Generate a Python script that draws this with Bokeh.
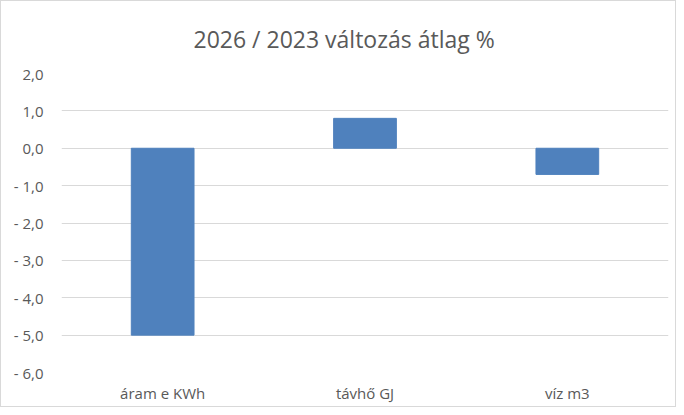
from bokeh.plotting import figure
from bokeh.models import FactorRange, Range1d, FixedTicker
from bokeh.embed import file_html
from bokeh.resources import INLINE

categories = ["áram e KWh", "távhő GJ", "víz m3"]
values = [-5.0, 0.8, -0.7]
tick_values = [2, 1, 0, -1, -2, -3, -4, -5, -6]
tick_labels = ["2,0", "1,0", "0,0", "- 1,0", "- 2,0", "- 3,0", "- 4,0", "- 5,0", "- 6,0"]
title_text = "2026 / 2023 változás átlag %"

p = figure(width=676, height=407, output_backend="svg", toolbar_location=None,
           x_range=FactorRange(*categories, range_padding=0), y_range=Range1d(-6, 2),
           min_border_left=60, min_border_right=9, min_border_top=0, min_border_bottom=36,
           title=title_text)

p.vbar(x=categories, top=values, bottom=0, width=0.31, fill_color="#4F81BD",
       line_color="#4F81BD")

p.title.align = "left"
p.title.offset = 132
p.title.text_font = "Open Sans"
p.title.text_font_style = "normal"
p.title.text_font_size = "23px"
p.title.text_color = "#595959"
p.title.standoff = 38

p.outline_line_color = None
p.background_fill_color = "white"
p.border_fill_color = "white"
p.styles = {"border": "1px solid #d9d9d9"}

p.xgrid.grid_line_color = None
p.ygrid.grid_line_color = "#d9d9d9"
p.ygrid.grid_line_width = 1
p.yaxis.ticker = FixedTicker(ticks=tick_values)
p.yaxis.major_label_overrides = {v: l for v, l in zip(tick_values, tick_labels)}

for ax in (p.xaxis[0], p.yaxis[0]):
    ax.axis_line_color = None
    ax.major_tick_line_color = None
    ax.minor_tick_line_color = None
    ax.major_label_text_font = "Open Sans"
    ax.major_label_text_font_size = "15px"
    ax.major_label_text_color = "#595959"
p.yaxis.major_label_standoff = 12
p.xaxis.major_label_standoff = 4

open("out.html", "w").write(file_html(p, INLINE))
